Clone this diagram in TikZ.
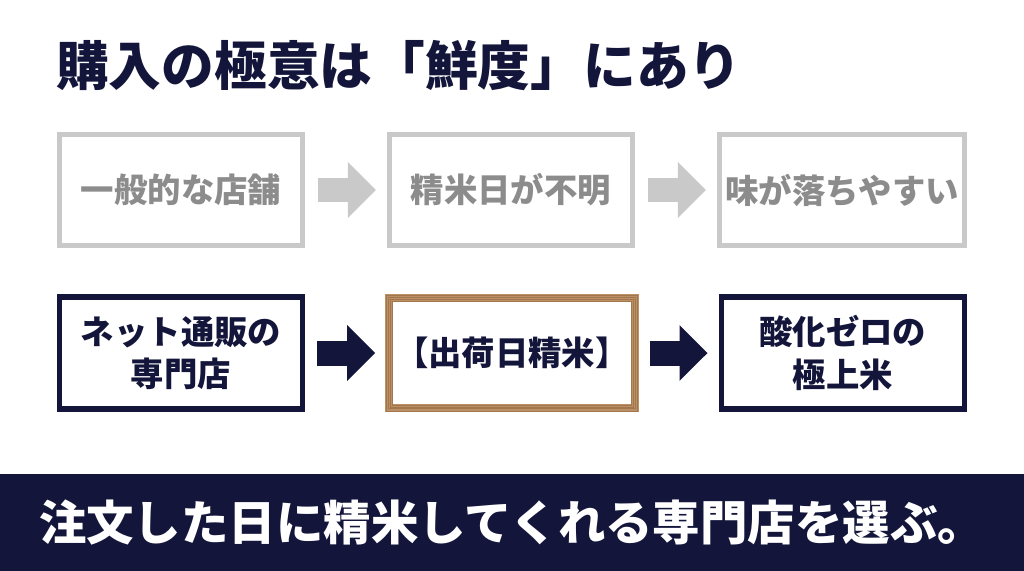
\documentclass[tikz,border=0pt]{standalone}
\usepackage{fontspec}
\newfontfamily\jp{Noto Sans CJK JP}
\usetikzlibrary{arrows.meta, positioning}
\definecolor{navy}{HTML}{13163A}
\definecolor{boxgray}{HTML}{C9C9C9}
\definecolor{textgray}{HTML}{8C8C8C}
\definecolor{wood}{HTML}{BC9065}
\definecolor{wooddark}{HTML}{8F643C}

\begin{document}
\begin{tikzpicture}[x=0.02cm, y=-0.02cm,
    oldbox/.style={draw=boxgray, line width=0.1cm, fill=white, minimum width=4.86cm, minimum height=2.24cm,
        text=textgray, align=center, font=\jp\bfseries\fontsize{19}{24}\selectfont},
    newbox/.style={oldbox, draw=navy, line width=0.11cm, text=navy},
    woodbox/.style={newbox, draw=wood, line width=0.16cm, minimum width=4.88cm, minimum height=2.2cm},
    oldarrow/.style={draw=boxgray, line width=0.5cm, -{Triangle[length=0.56cm, width=1.08cm]}},
    newarrow/.style={oldarrow, draw=navy}]
    \useasboundingbox (0,0) rectangle (1024,571);

    \node[anchor=west, text=navy, font=\jp\bfseries\fontsize{30}{36}\selectfont] (title) at (50,66) {購入の極意は「鮮度」にあり};

    % upper row
    \node[oldbox] (shop) at (181,190) {一般的な店舗};
    \node[oldbox, right=1.64cm of shop] (unknown) {精米日が不明};
    \node[oldbox, right=1.64cm of unknown] (taste) {味が落ちやすい};
    \draw[oldarrow] ([xshift=0.26cm]shop.east) -- ([xshift=-0.22cm]unknown.west);
    \draw[oldarrow] ([xshift=0.26cm]unknown.east) -- ([xshift=-0.22cm]taste.west);

    % lower row
    \node[newbox] (online) at (181,353) {ネット通販の\\専門店};
    \node[woodbox, right=1.6cm of online] (milling) {【出荷日精米】};
    \node[newbox, right=1.6cm of milling] (fresh) {酸化ゼロの\\極上米};
    % grain on the frame
    \foreach \o/\w in {0.02/0.5pt, 0.065/0.3pt, 0.1/0.4pt, 0.14/0.5pt}
        \draw[wooddark, line width=\w, opacity=0.55]
            ([xshift=\o cm, yshift=-\o cm]milling.north west) rectangle ([xshift=-\o cm, yshift=\o cm]milling.south east);
    \draw[newarrow] ([xshift=0.24cm]online.east) -- ([xshift=-0.2cm]milling.west);
    \draw[newarrow] ([xshift=0.22cm]milling.east) -- ([xshift=-0.22cm]fresh.west);

    \node[fill=navy, text=white, minimum width=20.48cm, minimum height=1.94cm, inner sep=0pt,
        font=\jp\bfseries\fontsize{27}{32}\selectfont] (banner) at (512,522.5) {注文した日に精米してくれる専門店を選ぶ。};
\end{tikzpicture}
\end{document}
